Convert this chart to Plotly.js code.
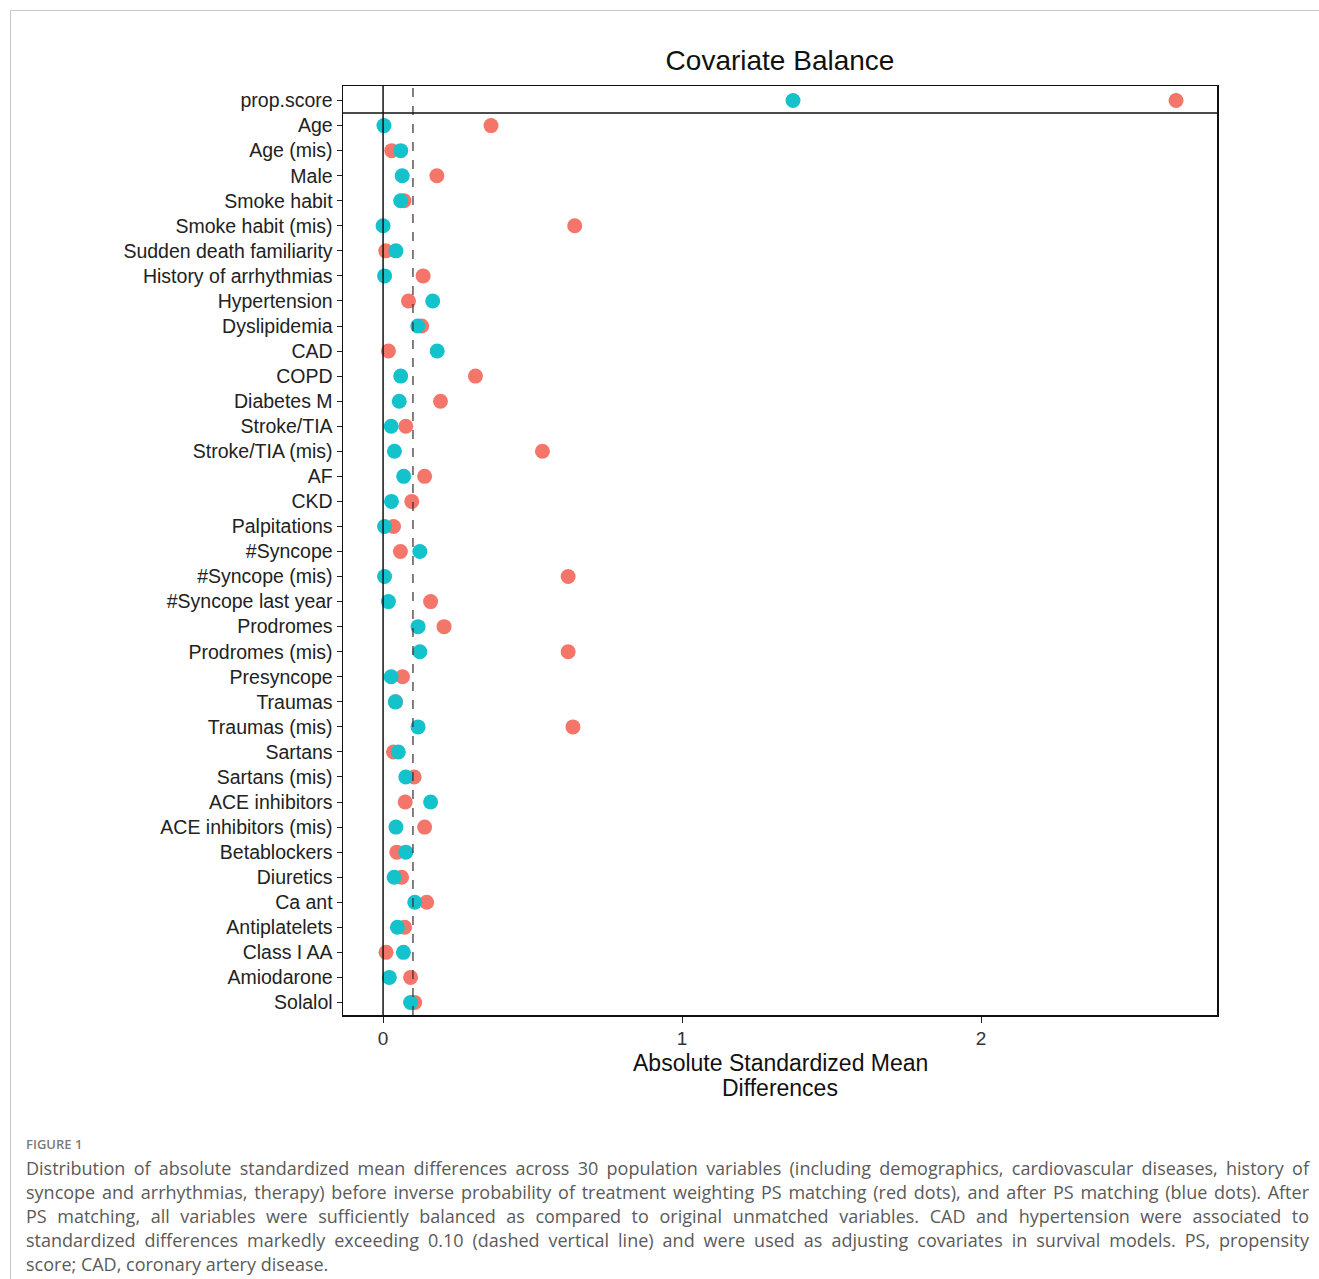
<!DOCTYPE html>
<html>
<head>
<meta charset="utf-8">
<script src="https://cdn.plot.ly/plotly-3.0.1.min.js"></script>
<style>
  html, body { margin: 0; padding: 0; background: #ffffff; }
  body { width: 1319px; height: 1279px; position: relative; overflow: hidden; }
  #frame { position: absolute; left: 10px; top: 10px; width: 1320px; height: 1280px;
           border-left: 1px solid #c8c8c8; border-top: 1px solid #c8c8c8; }
  #chart { position: absolute; left: 0; top: 0; width: 1319px; height: 1110px; }
  #figlabel { position: absolute; left: 26px; top: 1135px; font-family: "Open Sans", "Noto Sans", sans-serif;
              font-size: 13px; font-weight: 600; color: #7a7a7a; }
  #caption { position: absolute; left: 26px; top: 1156px; width: 1283px;
             font-family: "Open Sans", "Noto Sans", sans-serif; font-size: 18px; color: #5a5a5a; }
  #caption div { height: 24px; line-height: 24px; text-align: justify; text-align-last: justify; white-space: nowrap; }
  #caption div.last { text-align-last: left; }
</style>
</head>
<body>
<div id="frame"></div>
<div id="chart"></div>
<div id="figlabel">FIGURE 1</div>
<div id="caption">
  <div>Distribution of absolute standardized mean differences across 30 population variables (including demographics, cardiovascular diseases, history of</div>
  <div>syncope and arrhythmias, therapy) before inverse probability of treatment weighting PS matching (red dots), and after PS matching (blue dots). After</div>
  <div>PS matching, all variables were sufficiently balanced as compared to original unmatched variables. CAD and hypertension were associated to</div>
  <div>standardized differences markedly exceeding 0.10 (dashed vertical line) and were used as adjusting covariates in survival models. PS, propensity</div>
  <div class="last">score; CAD, coronary artery disease.</div>
</div>
<script>
// Covariate labels (top to bottom)
const covariates = [
  "prop.score", "Age", "Age (mis)", "Male", "Smoke habit", "Smoke habit (mis)",
  "Sudden death familiarity", "History of arrhythmias", "Hypertension", "Dyslipidemia",
  "CAD", "COPD", "Diabetes M", "Stroke/TIA", "Stroke/TIA (mis)", "AF", "CKD",
  "Palpitations", "#Syncope", "#Syncope (mis)", "#Syncope last year", "Prodromes",
  "Prodromes (mis)", "Presyncope", "Traumas", "Traumas (mis)", "Sartans", "Sartans (mis)",
  "ACE inhibitors", "ACE inhibitors (mis)", "Betablockers", "Diuretics", "Ca ant",
  "Antiplatelets", "Class I AA", "Amiodarone", "Solalol"
];

// Unadjusted (before matching, red dots)
const unadjusted = [
  2.652, 0.361, 0.029, 0.180, 0.070, 0.641,
  0.009, 0.134, 0.085, 0.129,
  0.018, 0.309, 0.192, 0.076, 0.533, 0.139, 0.096,
  0.035, 0.058, 0.619, 0.159, 0.204,
  0.619, 0.065, 0.042, 0.635, 0.035, 0.104,
  0.074, 0.139, 0.046, 0.062, 0.146,
  0.072, 0.010, 0.092, 0.106
];

// Adjusted (after matching, blue dots)
const adjusted = [
  1.371, 0.003, 0.059, 0.064, 0.059, 0.000,
  0.043, 0.005, 0.166, 0.116,
  0.181, 0.059, 0.054, 0.027, 0.038, 0.069, 0.028,
  0.005, 0.123, 0.005, 0.018, 0.117,
  0.123, 0.027, 0.041, 0.117, 0.051, 0.076,
  0.159, 0.043, 0.076, 0.037, 0.106,
  0.048, 0.068, 0.021, 0.092
];

const xTicks = [0, 1, 2];
const threshold = 0.1;

const FONT = '"Liberation Sans", Arial, Helvetica, sans-serif';

const traces = [
  {
    type: "scatter", mode: "markers", name: "Unadjusted",
    x: unadjusted, y: covariates,
    marker: { color: "#F4766A", size: 15, line: { width: 0 } },
    showlegend: false, cliponaxis: false
  },
  {
    type: "scatter", mode: "markers", name: "Adjusted",
    x: adjusted, y: covariates,
    marker: { color: "#14C2CC", size: 15, line: { width: 0 } },
    showlegend: false, cliponaxis: false
  }
];

const plotTop = 86, plotBottom = 1015, figH = 1110;
const plotH = plotBottom - plotTop;

const layout = {
  width: 1319, height: figH,
  margin: { l: 343, r: 102, t: plotTop, b: figH - plotBottom },
  paper_bgcolor: "rgba(0,0,0,0)",
  plot_bgcolor: "#ffffff",
  font: { family: FONT, color: "#222" },
  title: {
    text: "Covariate Balance",
    font: { family: FONT, size: 28, color: "#111" },
    x: 0.5, xref: "paper", xanchor: "center",
    y: 1 - 60 / figH, yref: "container", yanchor: "middle"
  },
  xaxis: {
    range: [-0.134, 2.789],
    tickvals: xTicks, ticktext: xTicks.map(String),
    ticks: "outside", ticklen: 6, tickwidth: 1, tickcolor: "#222",
    tickfont: { family: FONT, size: 19, color: "#333" },
    showgrid: false, zeroline: false,
    showline: true, linecolor: "#111", linewidth: 1.5, mirror: true
  },
  yaxis: {
    type: "category",
    categoryorder: "array", categoryarray: covariates,
    range: [covariates.length - 0.5, -0.58],
    ticks: "outside", ticklen: 5, tickwidth: 1, tickcolor: "#222",
    tickfont: { family: FONT, size: 19.5, color: "#222" },
    showgrid: false, zeroline: false,
    showline: true, linecolor: "#111", linewidth: 1.5, mirror: true
  },
  shapes: [
    { type: "line", xref: "x", yref: "paper", x0: 0, x1: 0, y0: 0, y1: 1,
      line: { color: "#111", width: 1.5 } },
    { type: "line", xref: "x", yref: "paper", x0: threshold, x1: threshold, y0: 0, y1: 1,
      line: { color: "#3a2a2a", width: 1.2, dash: "dash" } },
    { type: "line", xref: "paper", yref: "y", x0: 0, x1: 1, y0: 0.5, y1: 0.5,
      line: { color: "#111", width: 1.5 } }
  ],
  annotations: [
    {
      text: "Absolute Standardized Mean",
      xref: "paper", yref: "paper", x: 0.5, y: (plotBottom - 1063) / plotH,
      xanchor: "center", yanchor: "middle", showarrow: false,
      font: { family: FONT, size: 23, color: "#111" }
    },
    {
      text: "Differences",
      xref: "paper", yref: "paper", x: 0.5, y: (plotBottom - 1088) / plotH,
      xanchor: "center", yanchor: "middle", showarrow: false,
      font: { family: FONT, size: 23, color: "#111" }
    }
  ]
};

Plotly.newPlot("chart", traces, layout, { staticPlot: true, displayModeBar: false });

// shrink caption font if any justified line would overflow its box
(function fitCaption() {
  const cap = document.getElementById("caption");
  let size = 18;
  const lines = Array.from(cap.querySelectorAll("div"));
  const tooWide = () => lines.some(d => d.scrollWidth > 1283);
  while (tooWide() && size > 12) { size -= 0.25; cap.style.fontSize = size + "px"; }
})();
</script>
</body>
</html>
